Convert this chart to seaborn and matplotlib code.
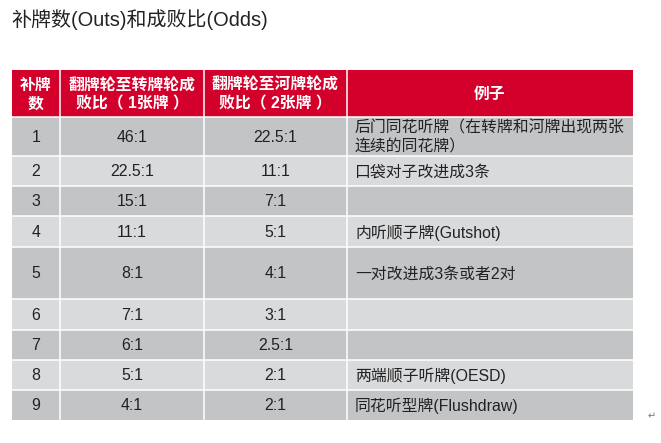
import numpy as np
import matplotlib
matplotlib.use("Agg")
import matplotlib.pyplot as plt
from matplotlib.colors import ListedColormap
import seaborn as sns

title = "补牌数(Outs)和成败比(Odds)"
headers = ["补牌\n数", "翻牌轮至转牌轮成\n败比（ 1张牌 ）", "翻牌轮至河牌轮成\n败比（ 2张牌 ）", "例子"]
outs = ["1", "2", "3", "4", "5", "6", "7", "8", "9"]
turn_odds = ["46:1", "22.5:1", "15:1", "11:1", "8:1", "7:1", "6:1", "5:1", "4:1"]
river_odds = ["22.5:1", "11:1", "7:1", "5:1", "4:1", "3:1", "2.5:1", "2:1", "2:1"]
examples = ["后门同花听牌（在转牌和河牌出现两张\n连续的同花牌）", "口袋对子改进成3条", "", "内听顺子牌(Gutshot)",
            "一对改进成3条或者2对", "", "", "两端顺子听牌(OESD)", "同花听型牌(Flushdraw)"]

col_widths = [48, 144, 143, 286]
row_heights = [47, 39, 30, 30, 31, 52, 31, 30, 30, 30]
RED, DARK, LIGHT = "#D3002B", "#C3C4C6", "#D9DADC"

sns.set_theme(style="white")
plt.rcParams["font.family"] = ["Liberation Sans", "Noto Sans CJK SC", "DejaVu Sans"]
W, H = 661, 443
fig = plt.figure(figsize=(W / 100, H / 100), dpi=100)
X0, Y0 = 12, 70
tw, th = sum(col_widths), sum(row_heights)
ax = fig.add_axes([X0 / W, 1 - (Y0 + th) / H, tw / W, th / H])

bands = np.array([0] + [1 + i % 2 for i in range(len(outs))])[:, None]
grid = np.repeat(np.repeat(bands, row_heights, axis=0), [tw], axis=1)
sns.heatmap(grid, ax=ax, cbar=False, cmap=ListedColormap([RED, DARK, LIGHT]),
            vmin=-0.5, vmax=2.5, xticklabels=False, yticklabels=False)
ax.set_xlim(0, tw)
ax.set_ylim(th, 0)

xe = np.cumsum([0] + col_widths)
ye = np.cumsum([0] + row_heights)
ax.vlines(xe[1:-1], 0, th, color="white", lw=1.1)
ax.hlines(ye[1:-1], 0, tw, color="white", lw=1.1)

FS = 11.4
DY = 1.0
xc = (xe[:-1] + xe[1:]) / 2
yc = (ye[:-1] + ye[1:]) / 2
for x, h in zip(xc, headers):
    ax.text(x, yc[0] + DY, h, ha="center", va="center", color="white",
            fontsize=FS, fontweight="bold", linespacing=1.3)
for i in range(len(outs)):
    y = yc[i + 1] + DY
    ax.text(xc[0], y, outs[i], ha="center", va="center", color="#222222", fontsize=FS)
    ax.text(xc[1], y, turn_odds[i], ha="center", va="center", color="#222222", fontsize=FS)
    ax.text(xc[2], y, river_odds[i], ha="center", va="center", color="#222222", fontsize=FS)
    if examples[i]:
        ax.text(xe[3] + 8, y, examples[i], ha="left", va="center", color="#222222",
                fontsize=FS, linespacing=1.3)

fig.text(11 / W, 1 - 20 / H, title, ha="left", va="center", fontsize=14.4, color="#222222")
fig.text(652 / W, 1 - 416 / H, "↵", ha="center", va="center", fontsize=7, color="#777777")
fig.savefig("out.png", dpi=100, facecolor="white")
